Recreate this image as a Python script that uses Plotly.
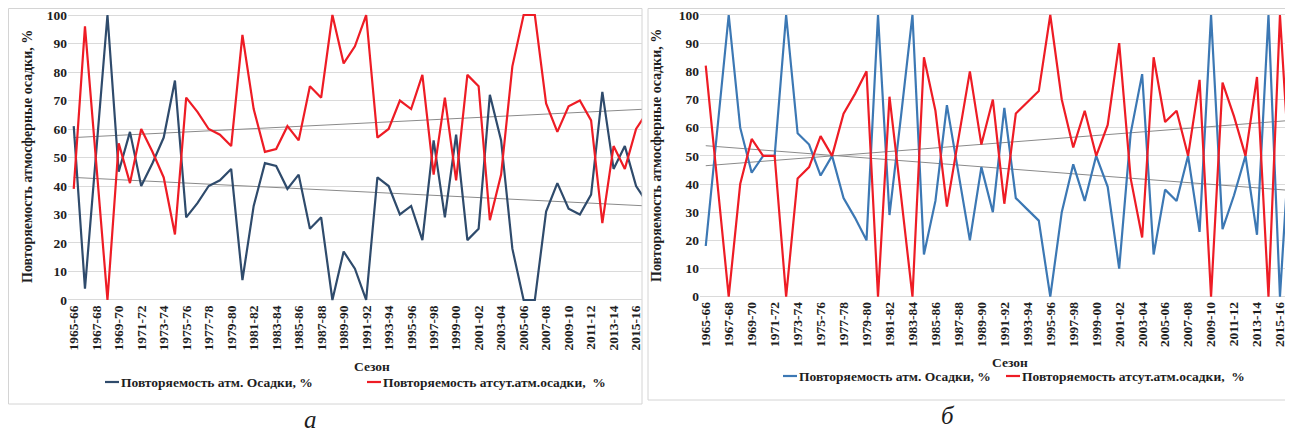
import plotly.graph_objects as go

seasons = ["1965-66", "1966-67", "1967-68", "1968-69", "1969-70", "1970-71", "1971-72", "1972-73",
           "1973-74", "1974-75", "1975-76", "1976-77", "1977-78", "1978-79", "1979-80", "1980-81",
           "1981-82", "1982-83", "1983-84", "1984-85", "1985-86", "1986-87", "1987-88", "1988-89",
           "1989-90", "1990-91", "1991-92", "1992-93", "1993-94", "1994-95", "1995-96", "1996-97",
           "1997-98", "1998-99", "1999-00", "2000-01", "2001-02", "2002-03", "2003-04", "2004-05",
           "2005-06", "2006-07", "2007-08", "2008-09", "2009-10", "2010-11", "2011-12", "2012-13",
           "2013-14", "2014-15", "2015-16", "2016-17"]
tick_labels = seasons[0:51:2]

# Panel а
a_precip = [61, 4, 52, 100, 45, 59, 40, 48, 57, 77, 29, 34, 40, 42, 46, 7, 33, 48, 47, 39,
            44, 25, 29, 0, 17, 11, 0, 43, 40, 30, 33, 21, 56, 29, 58, 21, 25, 72, 56, 18,
            0, 0, 31, 41, 32, 30, 37, 73, 46, 54, 40, 34]
a_noprecip = [39, 96, 48, 0, 55, 41, 60, 52, 43, 23, 71, 66, 60, 58, 54, 93, 67, 52, 53, 61,
              56, 75, 71, 100, 83, 89, 100, 57, 60, 70, 67, 79, 44, 71, 42, 79, 75, 28, 44, 82,
              100, 100, 69, 59, 68, 70, 63, 27, 54, 46, 60, 66]
# linear trend lines (value at first and last season)
a_precip_trend = [43.0, 33.0]
a_noprecip_trend = [57.0, 67.0]

# Panel б
b_precip = [18, 58, 100, 60, 44, 50, 50, 100, 58, 54, 43, 50, 35, 28, 20, 100, 29, 64, 100, 15,
            34, 68, 44, 20, 46, 30, 67, 35, 31, 27, 0, 30, 47, 34, 50, 39, 10, 58, 79, 15,
            38, 34, 50, 23, 100, 24, 36, 50, 22, 100, 0, 66]
b_noprecip = [82, 42, 0, 40, 56, 50, 50, 0, 42, 46, 57, 50, 65, 72, 80, 0, 71, 36, 0, 85,
              66, 32, 56, 80, 54, 70, 33, 65, 69, 73, 100, 70, 53, 66, 50, 61, 90, 42, 21, 85,
              62, 66, 50, 77, 0, 76, 64, 50, 78, 0, 100, 34]
b_precip_trend = [53.6, 37.7]
b_noprecip_trend = [46.5, 62.6]

legend_precip = "Повторяемость атм. Осадки, %"
legend_noprecip = "Повторяемость атсут.атм.осадки,  %"
y_title = "Повторяемость атмосферные осадки, %"
x_title = "Сезон"

RED = "#EE1C25"
BLUE_A = "#2F4B6C"
BLUE_B = "#3C78B4"
TREND = "#8A8A8A"
GRID = "#DADADA"
TXT = "#1E1E1E"
SERIF = "Liberation Serif"

W, H = 1293, 435
OFF = 8  # page body margin compensation


def px_x(x):
    return (x - OFF) / W


def px_y(y):
    return 1 - (y - OFF) / H


fig = go.Figure()

panels = [
    dict(xa="x", ya="y", blue=BLUE_A, p=a_precip, n=a_noprecip, pt=a_precip_trend, nt=a_noprecip_trend),
    dict(xa="x2", ya="y2", blue=BLUE_B, p=b_precip, n=b_noprecip, pt=b_precip_trend, nt=b_noprecip_trend),
]
ends = [seasons[0], seasons[-1]]
for pn in panels:
    fig.add_trace(go.Scatter(x=ends, y=pn["pt"], mode="lines", xaxis=pn["xa"], yaxis=pn["ya"],
                             line=dict(color=TREND, width=1), showlegend=False, hoverinfo="skip"))
    fig.add_trace(go.Scatter(x=ends, y=pn["nt"], mode="lines", xaxis=pn["xa"], yaxis=pn["ya"],
                             line=dict(color=TREND, width=1), showlegend=False, hoverinfo="skip"))
    fig.add_trace(go.Scatter(x=seasons, y=pn["p"], mode="lines", xaxis=pn["xa"], yaxis=pn["ya"],
                             name=legend_precip, line=dict(color=pn["blue"], width=2.2), showlegend=False))
    fig.add_trace(go.Scatter(x=seasons, y=pn["n"], mode="lines", xaxis=pn["xa"], yaxis=pn["ya"],
                             name=legend_noprecip, line=dict(color=RED, width=2.2), showlegend=False))

tickfont = dict(family=SERIF, size=13.5, color=TXT, weight="bold")
xcommon = dict(type="category", categoryorder="array", categoryarray=seasons, range=[-0.5, 50.5],
               tickmode="array", tickvals=tick_labels, ticktext=tick_labels, tickangle=-90,
               tickfont=tickfont, showgrid=False, showline=False, zeroline=False, ticks="", ticklen=0,
               automargin=False, ticklabeloverflow="allow")
ycommon = dict(range=[-0.6, 100.6], tickmode="array", tickvals=list(range(0, 101, 10)),
               tickfont=dict(family=SERIF, size=13.5, color=TXT, weight="bold"),
               showgrid=True, gridcolor=GRID, gridwidth=1.3, zeroline=False, showline=False, ticks="",
               automargin=False, ticklabeloverflow="allow")

fig.update_layout(
    width=W, height=H, margin=dict(l=0, r=0, t=0, b=0, pad=0), autosize=False,
    paper_bgcolor="white", plot_bgcolor="white", showlegend=False,
    xaxis=dict(xcommon, domain=[px_x(68.1), px_x(641.7)], anchor="y"),
    yaxis=dict(ycommon, domain=[px_y(301.7), px_y(13.3)], anchor="x"),
    xaxis2=dict(xcommon, domain=[px_x(700.0), px_x(1285.7)], anchor="y2"),
    yaxis2=dict(ycommon, domain=[px_y(298.4), px_y(13.3)], anchor="x2"),
)

shapes = []
# panel frames
shapes.append(dict(type="rect", xref="paper", yref="paper", x0=px_x(8.5), x1=px_x(642), y0=px_y(404), y1=px_y(8.5),
                   line=dict(color="#D4D4D4", width=1), layer="below"))
shapes.append(dict(type="rect", xref="paper", yref="paper", x0=px_x(648), x1=px_x(1286), y0=px_y(400), y1=px_y(8.5),
                   line=dict(color="#D4D4D4", width=1), layer="below"))

ann = []
bold = dict(family=SERIF, size=13.5, color=TXT, weight="bold")


def text_at(x, y, text, font, **kw):
    d = dict(x=px_x(x), y=px_y(y), text=text, font=font, showarrow=False, xref="paper", yref="paper",
             xanchor="center", yanchor="middle")
    d.update(kw)
    ann.append(d)


# y titles
text_at(27, 157, y_title, dict(bold, size=14), textangle=-90)
text_at(657, 156, y_title, dict(bold, size=14), textangle=-90)
# x titles
text_at(372, 366, x_title, bold)
text_at(1010, 362, x_title, bold)


def legend_item(x0, y, color, label):
    shapes.append(dict(type="line", xref="paper", yref="paper", x0=px_x(x0), x1=px_x(x0 + 14),
                       y0=px_y(y), y1=px_y(y), line=dict(color=color, width=2.2)))
    text_at(x0 + 14, y, label, bold, xanchor="left")


legend_item(105, 382, BLUE_A, legend_precip)
legend_item(367, 382, RED, legend_noprecip)
legend_item(783, 376, BLUE_B, legend_precip)
legend_item(1006, 376, RED, legend_noprecip)

# panel letters
text_at(310, 419, "а", dict(family=SERIF, size=25, color=TXT, style="italic"))
text_at(948, 415, "б", dict(family=SERIF, size=25, color=TXT, style="italic"))

fig.update_layout(annotations=ann, shapes=shapes)

fig.write_html("out.html")
